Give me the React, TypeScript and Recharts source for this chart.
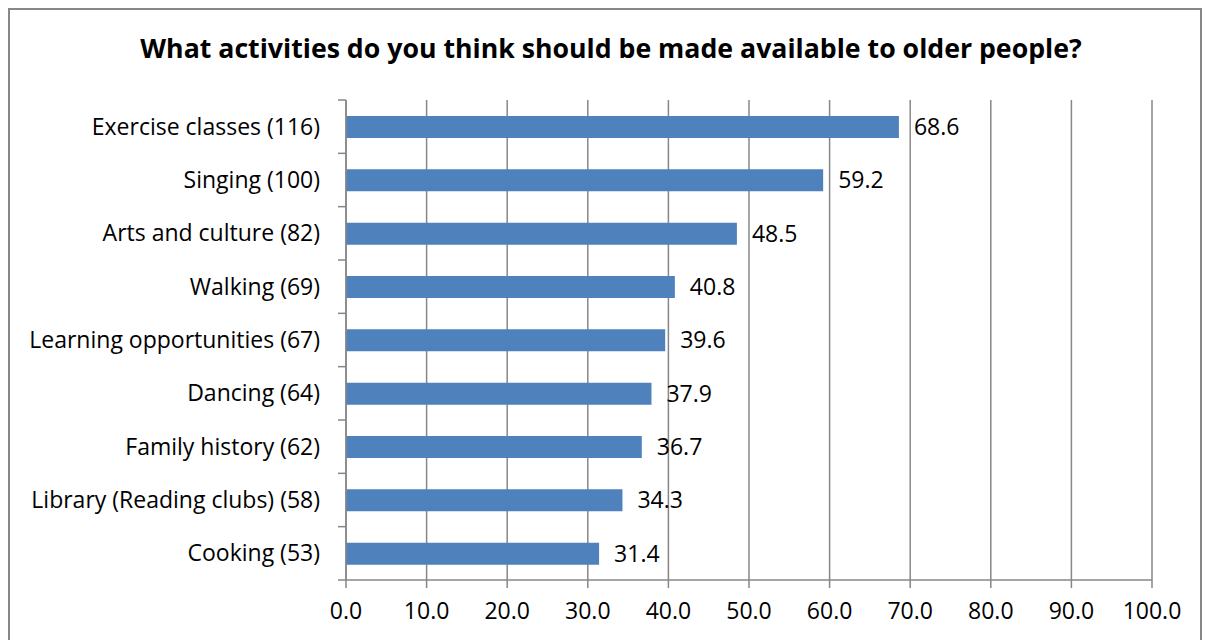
import { BarChart, Bar, XAxis, YAxis, CartesianGrid, LabelList } from 'recharts';

const activities = [
  'Exercise classes (116)',
  'Singing (100)',
  'Arts and culture (82)',
  'Walking (69)',
  'Learning opportunities (67)',
  'Dancing (64)',
  'Family history (62)',
  'Library (Reading clubs) (58)',
  'Cooking (53)',
];
const percents = [68.6, 59.2, 48.5, 40.8, 39.6, 37.9, 36.7, 34.3, 31.4];
const xTicks = [0, 10, 20, 30, 40, 50, 60, 70, 80, 90, 100];

const data = activities.map((name, i) => ({ name, value: percents[i] }));

const font = '"Open Sans", Lato, sans-serif';
const gray = '#878787';
const textSize = 23;
const catTickSize = 8;
const catTickMargin = 18;

// category label plus Excel-style tick marks between the bands
function CategoryTick(props: any) {
  const { x, y, payload, index, visibleTicksCount } = props;
  const axisX = x + catTickSize + catTickMargin;
  const half = payload.offset || 0;
  const last = index === (visibleTicksCount ?? activities.length) - 1;
  return (
    <g>
      <line x1={axisX - catTickSize} x2={axisX} y1={y - half} y2={y - half} stroke={gray} strokeWidth={1.5} />
      {last && (
        <line x1={axisX - catTickSize} x2={axisX} y1={y + half} y2={y + half} stroke={gray} strokeWidth={1.5} />
      )}
      <text x={x} y={y} dy="0.355em" textAnchor="end" fill="#000" fontSize={textSize} fontFamily={font}>
        {payload.value}
      </text>
    </g>
  );
}

export default function App() {
  return (
    <div
      style={{
        position: 'relative',
        width: 1190,
        height: 640,
        border: `2px solid ${gray}`,
        borderBottom: 'none',
        background: '#fff',
        fontFamily: font,
      }}
    >
      <div
        style={{
          position: 'absolute',
          top: 19,
          left: 6,
          width: 1190,
          textAlign: 'center',
          fontSize: 26.7,
          fontWeight: 700,
          color: '#000',
        }}
      >
        What activities do you think should be made available to older people?
      </div>
      <BarChart
        width={1190}
        height={630}
        data={data}
        layout="vertical"
        margin={{ top: 90, right: 48, bottom: 20, left: 0 }}
      >
        <CartesianGrid horizontal={false} stroke={gray} strokeWidth={1.5} />
        <XAxis
          type="number"
          domain={[0, 100]}
          ticks={xTicks}
          tickFormatter={(v: number) => v.toFixed(1)}
          height={40}
          tickSize={8}
          tickMargin={15}
          axisLine={{ stroke: gray, strokeWidth: 1.5 }}
          tickLine={{ stroke: gray, strokeWidth: 1.5 }}
          tick={{ fill: '#000', fontSize: textSize, fontFamily: font }}
        />
        <YAxis
          type="category"
          dataKey="name"
          width={336}
          tickSize={catTickSize}
          tickMargin={catTickMargin}
          axisLine={{ stroke: gray, strokeWidth: 1.5 }}
          tickLine={false}
          interval={0}
          tick={<CategoryTick />}
        />
        <Bar dataKey="value" fill="#4F81BD" barSize={22} isAnimationActive={false}>
          <LabelList
            dataKey="value"
            position="right"
            offset={15}
            formatter={(v: number) => v.toFixed(1)}
            style={{ fill: '#000', fontSize: textSize, fontFamily: font }}
          />
        </Bar>
      </BarChart>
    </div>
  );
}
